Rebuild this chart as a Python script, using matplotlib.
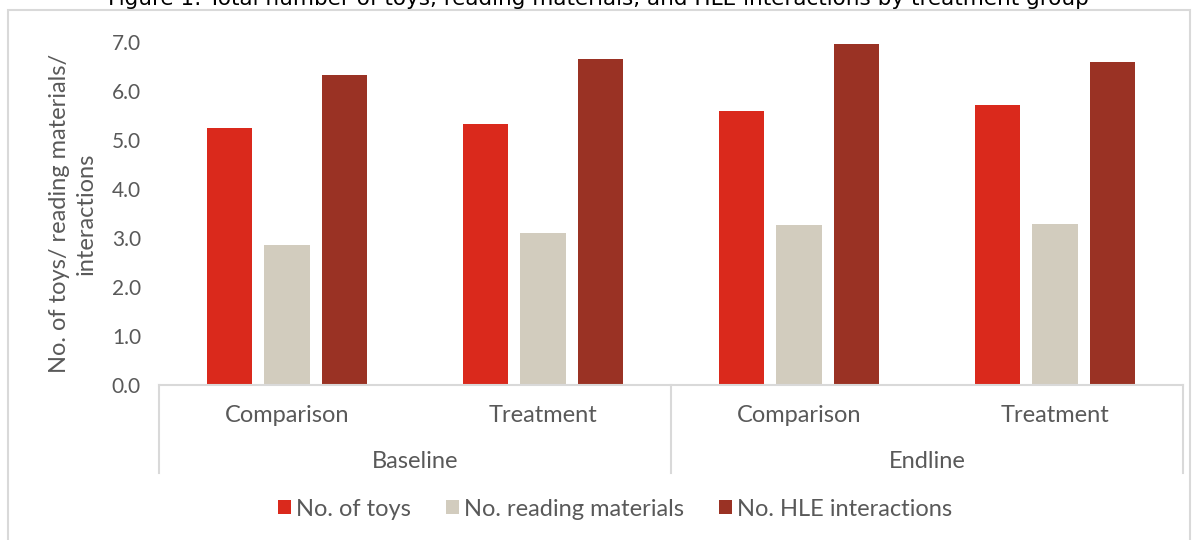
import numpy as np
import matplotlib.pyplot as plt
from matplotlib.patches import Rectangle

# household learning environment counts by survey round and arm
rounds = ["Baseline", "Endline"]
arms = ["Comparison", "Treatment", "Comparison", "Treatment"]
toys = [5.26, 5.33, 5.59, 5.72]
reading = [2.86, 3.11, 3.26, 3.29]
hle = [6.33, 6.67, 6.97, 6.61]
series_names = ["No. of toys", "No. reading materials", "No. HLE interactions"]
yticks = [0.0, 1.0, 2.0, 3.0, 4.0, 5.0, 6.0, 7.0]

title = "Figure 1: Total number of toys, reading materials, and HLE interactions by treatment group"
colors = ["#DA291C", "#D2CCBE", "#9A3224"]
text_col = "#595959"
line_col = "#D9D9D9"

plt.rcParams["font.family"] = ["Lato", "DejaVu Sans"]

W, H = 1197, 540
fig = plt.figure(figsize=(W / 100, H / 100), dpi=100)

# chart area border
fig.patches.append(Rectangle((8 / W, -0.05), (1190 - 8) / W, 1.05 - 10 / H,
                             transform=fig.transFigure, fill=False,
                             edgecolor=line_col, lw=1.5))
# title sits above the chart area and is cut by the top edge
fig.text(0.5, 1 - 5 / H, title, ha="center", va="baseline",
         fontsize=15.5, color="#000000", family="DejaVu Sans")

ax = fig.add_axes([159 / W, 1 - 385 / H, (1183 - 159) / W, (385 - 42.5) / H])

x = np.arange(len(arms))
width = 0.176
step = 0.223
for i, (vals, name) in enumerate(zip([toys, reading, hle], series_names)):
    ax.bar(x + (i - 1) * step, vals, width, color=colors[i], label=name,
           edgecolor="none")

ax.set_xlim(-0.5, len(arms) - 0.5)
ax.set_ylim(0, 7)
ax.set_yticks(yticks)
ax.set_yticklabels([f"{t:.1f}" for t in yticks], fontsize=15, color=text_col)
ax.tick_params(axis="y", length=0, pad=13)
ax.set_xticks([])
for s in ax.spines.values():
    s.set_visible(False)

ax.set_ylabel("No. of toys/ reading materials/\ninteractions", fontsize=17,
              color=text_col, labelpad=11, linespacing=1.3)

# two-level category axis
trans = ax.get_xaxis_transform()
px = 1 / (385 - 42.5)
ax.plot([-0.5, 3.5], [0, 0], color=line_col, lw=1.5, transform=trans,
        clip_on=False)
for xv in [-0.5, 1.5, 3.5]:
    ax.plot([xv, xv], [0, -88 * px], color=line_col, lw=1.5, transform=trans,
            clip_on=False)
for xi, arm in zip(x, arms):
    ax.text(xi, -31 * px, arm, transform=trans, ha="center", va="center",
            fontsize=17, color=text_col)
for gi, rnd in enumerate(rounds):
    ax.text(gi * 2 + 0.5, -76 * px, rnd, transform=trans, ha="center",
            va="center", fontsize=17, color=text_col)

fig.legend(loc="center", bbox_to_anchor=(615 / W, 1 - 509 / H), ncol=3,
           frameon=False, fontsize=17, handlelength=0.55, handleheight=0.55,
           handletextpad=0.2, columnspacing=1.5, labelcolor=text_col)

fig.savefig("out.png", dpi=100)
